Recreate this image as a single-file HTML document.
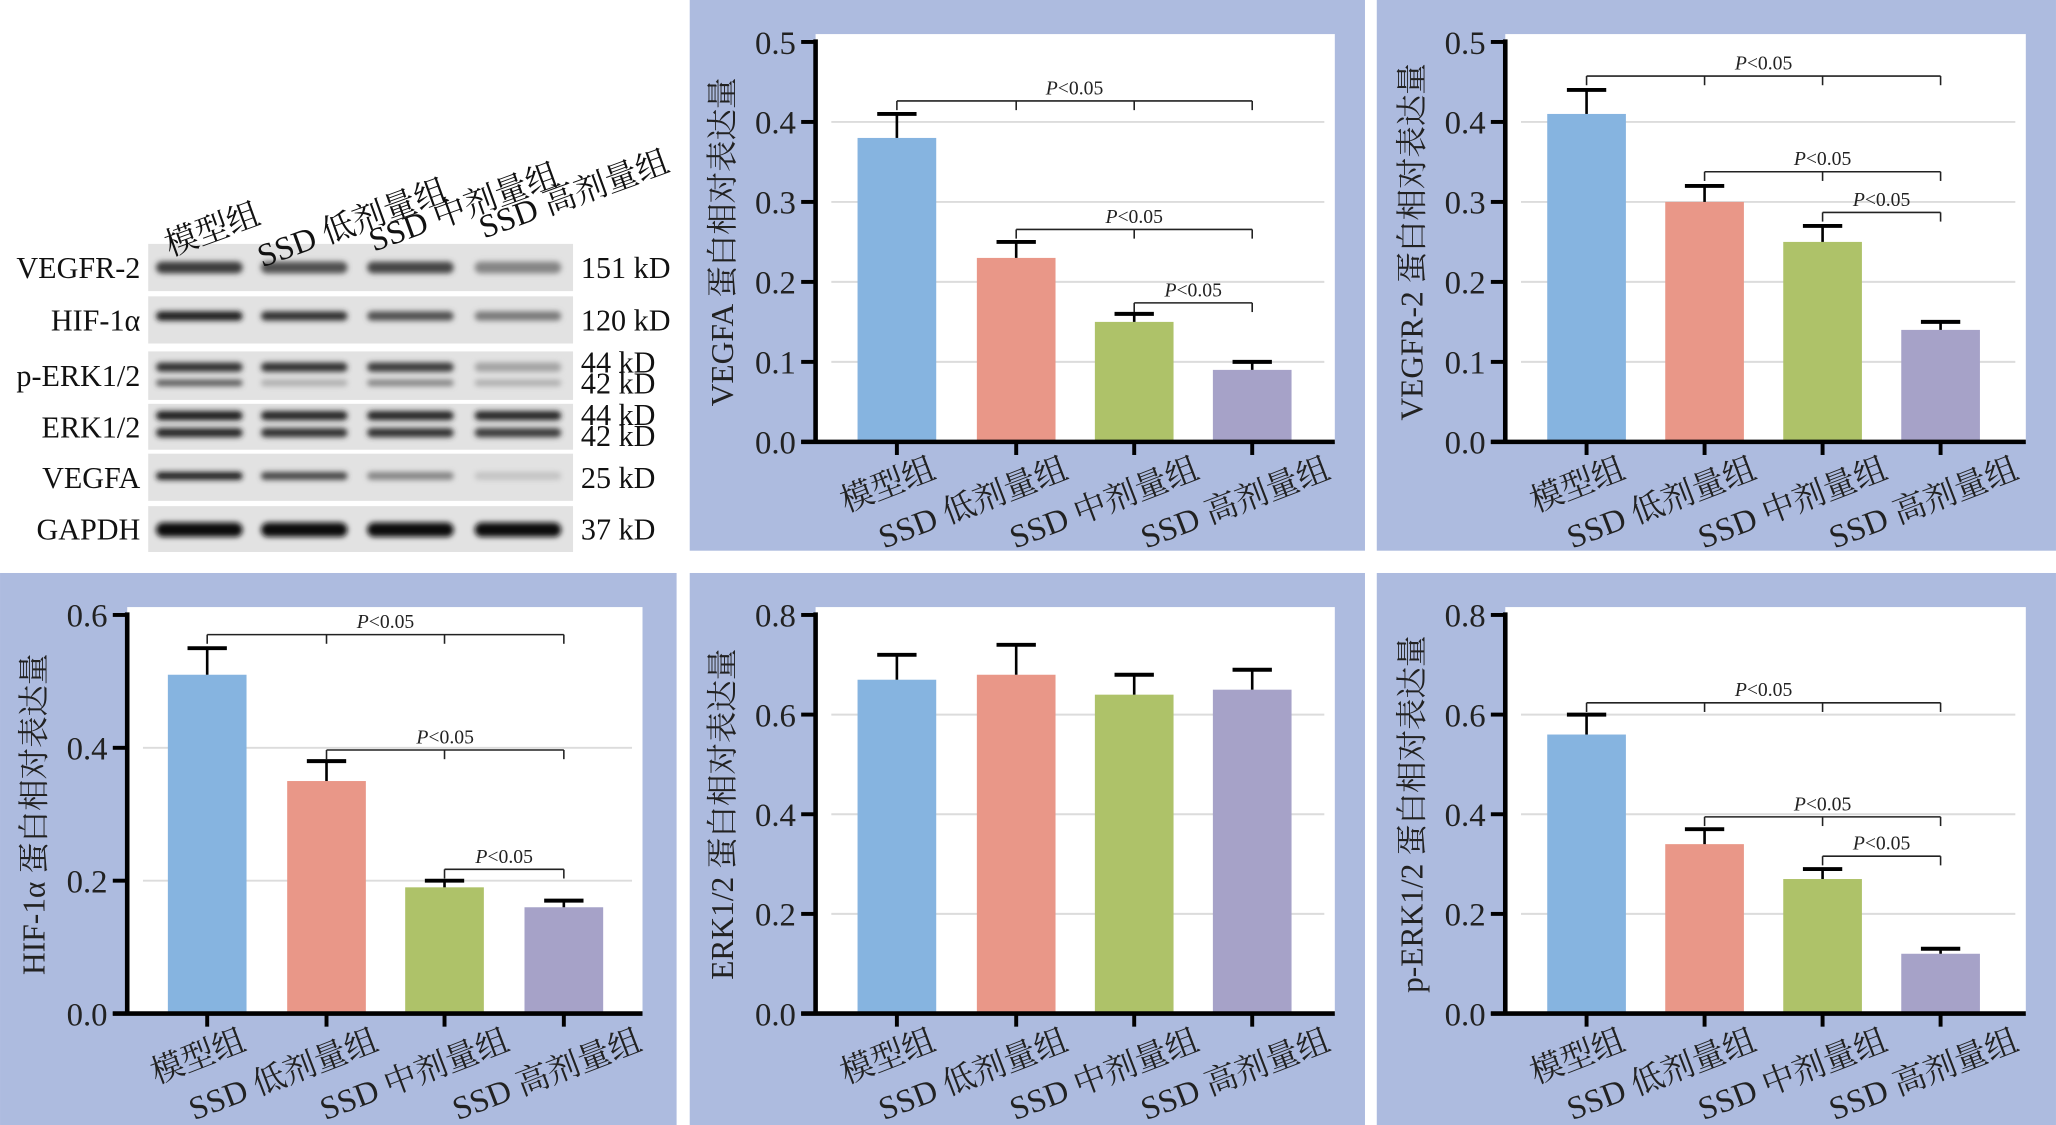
<!DOCTYPE html>
<html><head><meta charset="utf-8"><style>
html,body{margin:0;padding:0;background:#fff;width:2056px;height:1125px;overflow:hidden}
svg{display:block}
text{font-family:"Liberation Serif","Noto Serif CJK SC",serif}
</style></head><body>
<svg id="s" width="2056" height="1125" viewBox="0 0 1568 858" xmlns="http://www.w3.org/2000/svg">
<defs><filter id="bl" x="-20%" y="-100%" width="140%" height="300%"><feGaussianBlur stdDeviation="2"/></filter></defs>
<rect width="1568" height="858" fill="#fff"/>
</svg>
<script>
const s=document.getElementById('s');
let h='';
const cols=['#86b4e0','#e99788','#aec269','#a6a2c8'];
const grp=['模型组','SSD 低剂量组','SSD 中剂量组','SSD 高剂量组'];
const xo=[31,41,51,61];
function chart(o){
  const {px,py,pw,ph,ax,y0,ytop,max,step,cx,vals,err,br,lab,wr}=o;
  h+=`<rect x="${px}" y="${py}" width="${pw}" height="${ph}" fill="#adbbdf"/>`;
  h+=`<rect x="${ax}" y="${ytop-6}" width="${wr-ax}" height="${y0-ytop+6}" fill="#fff"/>`;
  const k=(y0-ytop)/max, Y=v=>y0-v*k;
  for(let v=step;v<max-1e-9;v+=step){h+=`<line x1="${ax+12}" x2="${wr-8}" y1="${Y(v)}" y2="${Y(v)}" stroke="#dcdcdc" stroke-width="1.5"/>`;}
  vals.forEach((v,i)=>{
    const c=cx[i];
    h+=`<rect x="${c-30}" y="${Y(v)}" width="60" height="${y0-Y(v)}" fill="${cols[i]}"/>`;
    h+=`<line x1="${c}" x2="${c}" y1="${Y(v)}" y2="${Y(v+err[i])}" stroke="#000" stroke-width="2"/>`;
    h+=`<line x1="${c-15}" x2="${c+15}" y1="${Y(v+err[i])}" y2="${Y(v+err[i])}" stroke="#000" stroke-width="3"/>`;
    h+=`<line x1="${c}" x2="${c}" y1="${y0}" y2="${y0+10}" stroke="#000" stroke-width="3"/>`;
    h+=`<text x="0" y="0" font-size="25" text-anchor="end" fill="#222" transform="translate(${c+xo[i]},${y0+27}) rotate(-21)">${grp[i]}</text>`;
  });
  for(let v=0;v<=max+1e-9;v+=step){const y=Y(v);
    h+=`<line x1="${ax-11}" x2="${ax}" y1="${y}" y2="${y}" stroke="#000" stroke-width="3"/>`;
    h+=`<text x="${ax-15}" y="${y+9}" font-size="25" text-anchor="end" fill="#222">${v.toFixed(1)}</text>`;}
  h+=`<line x1="${ax}" x2="${ax}" y1="${ytop-2}" y2="${y0+1.5}" stroke="#000" stroke-width="3.5"/>`;
  h+=`<line x1="${ax-11}" x2="${wr}" y1="${y0}" y2="${y0}" stroke="#000" stroke-width="3.5"/>`;
  (br||[]).forEach(b=>{const [a,e,y]=b;
    h+=`<line x1="${cx[a]}" x2="${cx[e]}" y1="${y}" y2="${y}" stroke="#222" stroke-width="1.2"/>`;
    for(let i=a;i<=e;i++) h+=`<line x1="${cx[i]}" x2="${cx[i]}" y1="${y}" y2="${y+7}" stroke="#222" stroke-width="1.2"/>`;
    h+=`<text x="${(cx[a]+cx[e])/2}" y="${y-5}" font-size="15" text-anchor="middle" fill="#222"><tspan font-style="italic">P</tspan>&lt;0.05</text>`;
  });
  h+=`<text x="0" y="0" font-size="24" text-anchor="middle" fill="#222" transform="translate(${ax-63},${(ytop+y0)/2}) rotate(-90)">${lab}</text>`;
}
const cm=[684,775,865,955], cr=[1210,1300,1390,1480], cl=[158,249,339,430];
chart({px:526,py:0,pw:515,ph:420,ax:622,y0:337,ytop:32,max:0.5,step:0.1,cx:cm,wr:1018,
 vals:[.38,.23,.15,.09],err:[.03,.02,.01,.01],br:[[0,3,77],[1,3,175],[2,3,231]],lab:'VEGFA 蛋白相对表达量'});
chart({px:1050,py:0,pw:518,ph:420,ax:1148,y0:337,ytop:32,max:0.5,step:0.1,cx:cr,wr:1545,
 vals:[.41,.30,.25,.14],err:[.03,.02,.02,.01],br:[[0,3,58],[1,3,131],[2,3,162]],lab:'VEGFR-2 蛋白相对表达量'});
chart({px:0,py:437,pw:516,ph:421,ax:97,y0:773,ytop:469,max:0.6,step:0.2,cx:cl,wr:490,
 vals:[.51,.35,.19,.16],err:[.04,.03,.01,.01],br:[[0,3,484],[1,3,572],[2,3,663]],lab:'HIF-1α 蛋白相对表达量'});
chart({px:526,py:437,pw:515,ph:421,ax:622,y0:773,ytop:469,max:0.8,step:0.2,cx:cm,wr:1018,
 vals:[.67,.68,.64,.65],err:[.05,.06,.04,.04],br:[],lab:'ERK1/2 蛋白相对表达量'});
chart({px:1050,py:437,pw:518,ph:421,ax:1148,y0:773,ytop:469,max:0.8,step:0.2,cx:cr,wr:1545,
 vals:[.56,.34,.27,.12],err:[.04,.03,.02,.01],br:[[0,3,536],[1,3,623],[2,3,653]],lab:'p-ERK1/2 蛋白相对表达量'});
// western blot
const lanes=[152,232,313,395];
const rows=[
 {n:'VEGFR-2',y0:186,y1:222,kd:['151 kD'],b:[[204,[.8,.7,.75,.45],9]]},
 {n:'HIF-1α',y0:226,y1:262,kd:['120 kD'],b:[[241,[.95,.85,.7,.5],7]]},
 {n:'p-ERK1/2',y0:268,y1:305,kd:['44 kD','42 kD'],b:[[280,[.85,.85,.8,.3],7],[292,[.65,.25,.45,.25],5]]},
 {n:'ERK1/2',y0:308,y1:343,kd:['44 kD','42 kD'],b:[[317,[.95,.9,.9,.9],7],[330,[.9,.85,.85,.8],7]]},
 {n:'VEGFA',y0:346,y1:382,kd:['25 kD'],b:[[363,[.95,.75,.45,.15],6]]},
 {n:'GAPDH',y0:386,y1:421,kd:['37 kD'],b:[[404,[1,1,1,1],11]]}
];
function g(a){const v=Math.round(226-a*210);return `rgb(${v},${v},${v})`;}
rows.forEach(r=>{
  h+=`<rect x="113" y="${r.y0}" width="324" height="${r.y1-r.y0}" fill="#e2e2e2"/>`;
  r.b.forEach(([y,a,t])=>lanes.forEach((c,i)=>{h+=`<rect x="${c-33}" y="${y-t/2}" width="66" height="${t}" rx="${t/2}" fill="${g(a[i])}" filter="url(#bl)"/>`;}));
  h+=`<text x="107" y="${(r.y0+r.y1)/2+8}" font-size="23" text-anchor="end" fill="#111">${r.n}</text>`;
  if(r.kd.length==1) h+=`<text x="443" y="${(r.y0+r.y1)/2+8}" font-size="23" fill="#111">${r.kd[0]}</text>`;
  else {h+=`<text x="443" y="${r.y0+16}" font-size="23" fill="#111">${r.kd[0]}</text><text x="443" y="${r.y0+32}" font-size="23" fill="#111">${r.kd[1]}</text>`;}
});
const hp=[[200,170],[343,152],[428,140],[512,130]];
hp.forEach(([x,y],i)=>{h+=`<text x="0" y="0" font-size="25" text-anchor="end" fill="#111" transform="translate(${x},${y}) rotate(-20)">${grp[i]}</text>`;});
s.insertAdjacentHTML('beforeend',h);
</script>
</body></html>
